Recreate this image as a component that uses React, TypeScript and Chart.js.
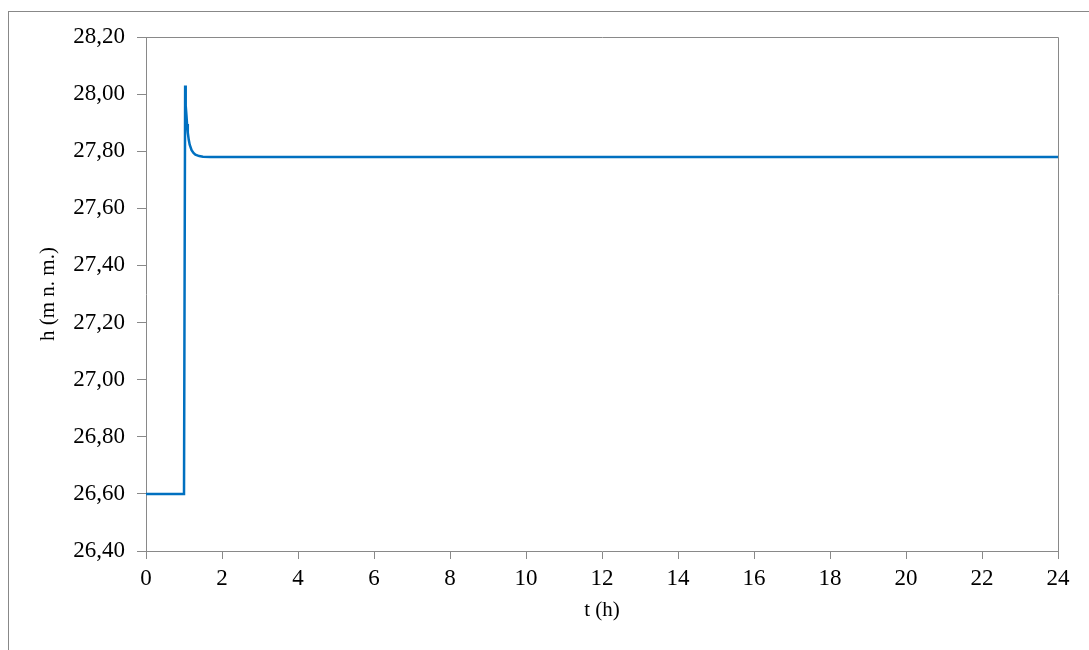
import React, { useEffect, useRef } from "react";
import { Chart, registerables } from "chart.js";

Chart.register(...registerables);

// time (h)
const tValues = [0, 0.5, 1.0, 1.03, 1.04, 1.05, 1.065, 1.08, 1.1, 1.125, 1.15, 1.2, 1.25, 1.3, 1.4, 1.5, 1.7, 2, 4, 6, 8, 10, 12, 14, 16, 18, 20, 22, 24];
// water level h (m n. m.)
const hValues = [26.6, 26.6, 26.6, 28.03, 27.99, 27.96, 27.925, 27.895, 27.865, 27.84, 27.823, 27.804, 27.794, 27.788, 27.783, 27.781, 27.78, 27.78, 27.78, 27.78, 27.78, 27.78, 27.78, 27.78, 27.78, 27.78, 27.78, 27.78, 27.78];

const xTicks = [0, 2, 4, 6, 8, 10, 12, 14, 16, 18, 20, 22, 24];
const yTicks = [26.4, 26.6, 26.8, 27.0, 27.2, 27.4, 27.6, 27.8, 28.0, 28.2];

const xTitle = "t (h)";
const yTitle = "h (m n. m.)";

const FONT = "'Liberation Serif', 'Times New Roman', serif";
const GRAY = "#898989";

export default function App() {
  const ref = useRef<HTMLCanvasElement | null>(null);

  useEffect(() => {
    if (!ref.current) return;
    const plotBorder = {
      id: "plotBorder",
      afterDraw(chart: any) {
        const { ctx, chartArea } = chart;
        ctx.save();
        ctx.strokeStyle = GRAY;
        ctx.lineWidth = 1;
        ctx.beginPath();
        ctx.moveTo(Math.round(chartArea.left) + 0.5, Math.round(chartArea.top) + 0.5);
        ctx.lineTo(Math.round(chartArea.right) + 0.5, Math.round(chartArea.top) + 0.5);
        ctx.lineTo(Math.round(chartArea.right) + 0.5, Math.round(chartArea.bottom) + 0.5);
        ctx.stroke();
        ctx.restore();
      },
    };
    const chart = new Chart(ref.current, {
      type: "line",
      data: {
        datasets: [
          {
            data: tValues.map((t, i) => ({ x: t, y: hValues[i] })),
            borderColor: "#0070C0",
            borderWidth: 2.5,
            pointRadius: 0,
            tension: 0,
            fill: false,
          },
        ],
      },
      options: {
        animation: false,
        responsive: false,
        maintainAspectRatio: false,
        layout: { padding: { top: 37, right: 31, left: 0, bottom: 0 } },
        plugins: { legend: { display: false }, tooltip: { enabled: false } },
        scales: {
          x: {
            type: "linear",
            min: 0,
            max: 24,
            afterBuildTicks: (s: any) => {
              s.ticks = xTicks.map((v) => ({ value: v }));
            },
            afterFit: (s: any) => {
              s.height = 99;
            },
            grid: { display: true, drawOnChartArea: false, drawTicks: true, tickLength: 8, color: GRAY },
            border: { display: true, color: GRAY, width: 1 },
            ticks: {
              color: "#000",
              font: { family: FONT, size: 23 },
              padding: 6,
              maxRotation: 0,
              autoSkip: false,
              callback: (v: any) => String(v),
            },
            title: {
              display: true,
              text: xTitle,
              color: "#000",
              font: { family: FONT, size: 21 },
              padding: { top: 0, bottom: 27 },
            },
          },
          y: {
            type: "linear",
            min: 26.4,
            max: 28.2,
            afterBuildTicks: (s: any) => {
              s.ticks = yTicks.map((v) => ({ value: v }));
            },
            afterFit: (s: any) => {
              s.width = 146;
            },
            grid: { display: true, drawOnChartArea: false, drawTicks: true, tickLength: 9, color: GRAY },
            border: { display: true, color: GRAY, width: 1 },
            ticks: {
              color: "#000",
              font: { family: FONT, size: 23 },
              padding: 12,
              autoSkip: false,
              callback: (v: any) => Number(v).toFixed(2).replace(".", ","),
            },
            title: {
              display: true,
              text: yTitle,
              color: "#000",
              font: { family: FONT, size: 21 },
              padding: { top: 36, bottom: 0 },
            },
          },
        },
      },
      plugins: [plotBorder],
    });
    return () => chart.destroy();
  }, []);

  return (
    <>
      <div
        style={{
          position: "fixed",
          left: 8,
          top: 11,
          width: 1200,
          height: 800,
          borderLeft: "1px solid #888888",
          borderTop: "1px solid #888888",
          background: "#fff",
        }}
      />
      <div style={{ position: "fixed", left: 0, top: 0, width: 1089, height: 650 }}>
        <canvas ref={ref} width={1089} height={650} style={{ width: 1089, height: 650, display: "block" }} />
      </div>
    </>
  );
}
